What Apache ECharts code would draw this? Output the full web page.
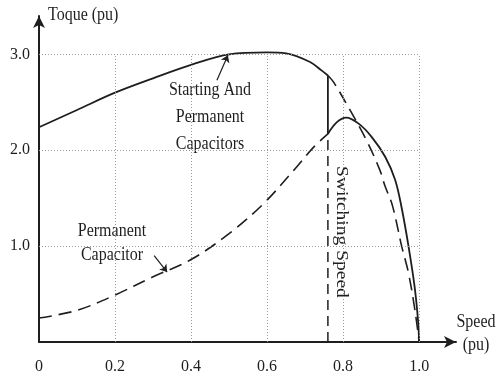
<!DOCTYPE html>
<html>
<head>
<meta charset="utf-8">
<script src="https://cdn.jsdelivr.net/npm/echarts@6/dist/echarts.min.js"></script>
<style>
  html, body { margin: 0; padding: 0; background: #fff; }
  #chart { width: 496px; height: 378px; }
</style>
</head>
<body>
<div id="chart"></div>
<script>
// Torque–speed characteristic of a capacitor-start, capacitor-run motor.

// Starting + permanent capacitors, up to the switching speed
const speedStartRun = [0, 0.1, 0.2, 0.3, 0.4, 0.5, 0.6, 0.65, 0.713, 0.744, 0.76];
const torqueStartRun = [2.24, 2.42, 2.60, 2.75, 2.89, 3.00, 3.02, 3.01, 2.92, 2.83, 2.78];

// Starting + permanent capacitors, beyond the switching speed (not used)
const speedStartRunTail = [0.76, 0.775, 0.818, 0.862, 0.897, 0.91, 0.93, 0.954, 0.972, 0.989, 1.0];
const torqueStartRunTail = [2.78, 2.71, 2.42, 2.10, 1.79, 1.63, 1.42, 1.0, 0.72, 0.33, 0];

// Permanent capacitor only, below the switching speed (not used)
const speedRun = [0, 0.1, 0.2, 0.3, 0.4, 0.5, 0.59, 0.67, 0.722, 0.76];
const torqueRun = [0.25, 0.33, 0.49, 0.68, 0.86, 1.13, 1.44, 1.79, 2.03, 2.17];

// Permanent capacitor only, after switching (operating curve)
const speedRunTail = [0.76, 0.783, 0.808, 0.84, 0.875, 0.911, 0.937, 0.954, 0.972, 0.988, 0.997, 1.0];
const torqueRunTail = [2.17, 2.29, 2.34, 2.28, 2.14, 1.93, 1.69, 1.40, 1.0, 0.58, 0.23, 0];

const switchingSpeed = 0.76;
const xTicks = [0.2, 0.4, 0.6, 0.8, 1.0];
const yTicks = [1, 2, 3];

const ink = '#1e1e1e';
const serif = '"Liberation Serif", "Times New Roman", serif';

const zip = (xs, ys) => xs.map((x, i) => [x, ys[i]]);

// dotted reference grid bounded by speed 1.0 and torque 3.0
const gridLines = [];
xTicks.forEach(x => gridLines.push([{ coord: [x, 0] }, { coord: [x, 3] }]));
yTicks.forEach(y => gridLines.push([{ coord: [0, y] }, { coord: [1.0, y] }]));

const solid = { color: ink, width: 1.8, type: 'solid' };
const dashed = { color: ink, width: 1.6, type: [13, 7] };

const chart = echarts.init(document.getElementById('chart'));

chart.setOption({
  animation: false,
  backgroundColor: '#fff',
  grid: { left: 39, right: 40, top: 16, bottom: 36 },
  xAxis: {
    type: 'value', min: 0, max: 1.097, interval: 0.2,
    axisLine: { lineStyle: { color: ink, width: 2 }, symbol: ['none', 'arrow'], symbolSize: [9, 12] },
    axisTick: { show: false },
    splitLine: { show: false },
    axisLabel: {
      color: ink, fontFamily: serif, fontSize: 16, margin: 17,
      formatter: v => (v > 1.0001 ? '' : (v === 0 ? '0' : v.toFixed(1)))
    }
  },
  yAxis: {
    type: 'value', min: 0, max: 3.40, interval: 1,
    axisLine: { lineStyle: { color: ink, width: 2 }, symbol: ['none', 'arrow'], symbolSize: [9, 12] },
    axisTick: { show: false },
    splitLine: { show: false },
    axisLabel: {
      color: ink, fontFamily: serif, fontSize: 16, margin: 9,
      formatter: v => (v > 0 && Math.abs(v - Math.round(v)) < 1e-6 ? v.toFixed(1) : '')
    }
  },
  series: [
    {
      name: 'grid', type: 'line', data: [], z: 1, silent: true,
      markLine: {
        silent: true, symbol: 'none', label: { show: false },
        lineStyle: { color: '#9a9a9a', width: 1, type: [1, 2] },
        data: gridLines
      }
    },
    {
      name: 'Starting And Permanent Capacitors', type: 'line', z: 3,
      data: zip(speedStartRun, torqueStartRun),
      smooth: 0.35, showSymbol: false, lineStyle: solid
    },
    {
      name: 'drop', type: 'line', z: 3,
      data: [[switchingSpeed, torqueStartRun[torqueStartRun.length - 1]], [switchingSpeed, torqueRun[torqueRun.length - 1]]],
      showSymbol: false, lineStyle: solid
    },
    {
      name: 'Permanent Capacitor (run)', type: 'line', z: 3,
      data: zip(speedRunTail, torqueRunTail),
      smooth: 0.35, showSymbol: false, lineStyle: solid
    },
    {
      name: 'Permanent Capacitor', type: 'line', z: 3,
      data: zip(speedRun, torqueRun),
      smooth: 0.35, showSymbol: false, lineStyle: dashed
    },
    {
      name: 'Starting And Permanent (extended)', type: 'line', z: 3,
      data: zip(speedStartRunTail, torqueStartRunTail),
      smooth: 0.35, showSymbol: false, lineStyle: dashed
    },
    {
      name: 'Switching Speed', type: 'line', z: 3,
      data: [[switchingSpeed, 0], [switchingSpeed, torqueRun[torqueRun.length - 1]]],
      showSymbol: false, lineStyle: { color: ink, width: 1.5, type: [10, 6] },
      markLine: {
        silent: true, symbol: ['none', 'arrow'], symbolSize: 7, label: { show: false },
        lineStyle: { color: ink, width: 1.2, type: 'solid' },
        data: [
          [{ coord: [0.468, 2.73] }, { coord: [0.497, 2.99] }],
          [{ coord: [0.303, 0.90] }, { coord: [0.337, 0.73] }]
        ]
      }
    }
  ],
  graphic: [
    {
      type: 'text', x: 48, y: 15, scaleY: 1.22,
      style: { text: 'Toque (pu)', font: '16px ' + serif, fill: ink, align: 'left', verticalAlign: 'middle' }
    },
    {
      type: 'text', x: 476, y: 333, scaleY: 1.22,
      style: { text: 'Speed\n(pu)', font: '16px ' + serif, fill: ink, align: 'center', verticalAlign: 'middle', lineHeight: 19 }
    },
    {
      type: 'text', x: 210, y: 117, scaleY: 1.22,
      style: { text: 'Starting And\nPermanent\nCapacitors', font: '16px ' + serif, fill: ink, align: 'center', verticalAlign: 'middle', lineHeight: 22 }
    },
    {
      type: 'text', x: 112, y: 243, scaleY: 1.22,
      style: { text: 'Permanent\nCapacitor', font: '16px ' + serif, fill: ink, align: 'center', verticalAlign: 'middle', lineHeight: 20 }
    },
    {
      type: 'text', x: 341, y: 232, rotation: -Math.PI / 2, scaleX: 1.22,
      style: { text: 'Switching Speed', font: '16px ' + serif, fill: ink, align: 'center', verticalAlign: 'middle' }
    }
  ]
});
</script>
</body>
</html>
